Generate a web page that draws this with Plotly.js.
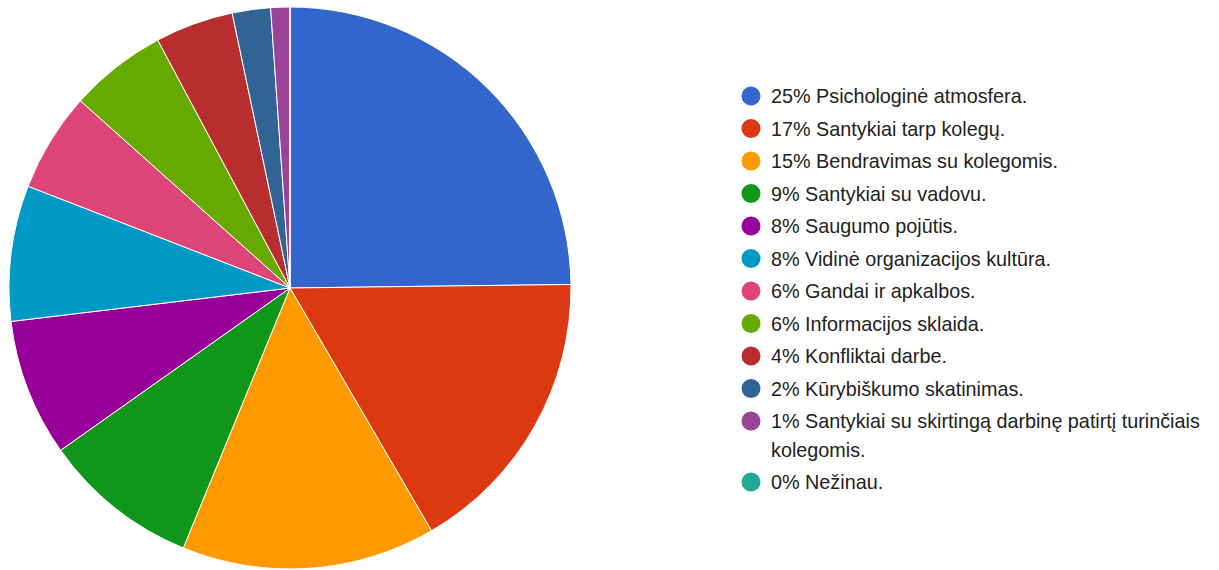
<!DOCTYPE html>
<html><head><meta charset="utf-8">
<script src="https://cdn.plot.ly/plotly-3.0.1.min.js"></script>
<style>html,body{margin:0;padding:0;background:#fff}</style>
</head><body>
<div id="chart" style="width:1219px;height:570px"></div>
<script>
const labels = [
  "25% Psichologinė atmosfera.",
  "17% Santykiai tarp kolegų.",
  "15% Bendravimas su kolegomis.",
  "9% Santykiai su vadovu.",
  "8% Saugumo pojūtis.",
  "8% Vidinė organizacijos kultūra.",
  "6% Gandai ir apkalbos.",
  "6% Informacijos sklaida.",
  "4% Konfliktai darbe.",
  "2% Kūrybiškumo skatinimas.",
  "1% Santykiai su skirtingą darbinę patirtį turinčiais<br>kolegomis.",
  "0% Nežinau."
];
const values = [24.8, 16.8, 14.6, 9.0, 7.9, 7.8, 5.7, 5.6, 4.5, 2.2, 1.1, 0];
const colors = ["#3366cc","#dc3912","#ff9900","#109618","#990099","#0099c6","#dd4477","#66aa00","#b82e2e","#316395","#994499","#22aa99"];

const W = 1219, H = 570;
const traces = [{
  type: "pie",
  labels: labels,
  values: values,
  sort: false,
  direction: "clockwise",
  rotation: 0,
  textinfo: "none",
  hoverinfo: "label",
  showlegend: false,
  marker: {colors: colors, line: {color: "#ffffff", width: 1}},
  domain: {x: [9/W, 571/W], y: [1/H, 563/H]}
}];

// custom circular legend
const shapes = [], annotations = [];
const rowH = 32.5, wrapH = 28.5, firstY = 96, cx = 751, r = 9.5, tx = 769;
let y = firstY;
labels.forEach((l, i) => {
  shapes.push({
    type: "circle", xref: "paper", yref: "paper",
    x0: (cx - r)/W, x1: (cx + r)/W, y0: 1 - (y + r)/H, y1: 1 - (y - r)/H,
    fillcolor: colors[i], line: {width: 0}
  });
  const lines = l.split("<br>");
  lines.forEach((t, k) => {
    annotations.push({
      xref: "paper", yref: "paper", x: tx/W, y: 1 - (y + k*wrapH)/H,
      xanchor: "left", yanchor: "middle", showarrow: false, text: t,
      font: {family: "Liberation Sans, Arial, sans-serif", size: 19.8, color: "#222"}
    });
  });
  y += rowH + (lines.length - 1) * wrapH;
});

const layout = {
  width: W, height: H,
  margin: {l: 0, r: 0, t: 0, b: 0},
  paper_bgcolor: "#fff", plot_bgcolor: "#fff",
  showlegend: false,
  shapes: shapes,
  annotations: annotations
};
Plotly.newPlot("chart", traces, layout, {displayModeBar: false, staticPlot: true});
</script>
</body></html>
